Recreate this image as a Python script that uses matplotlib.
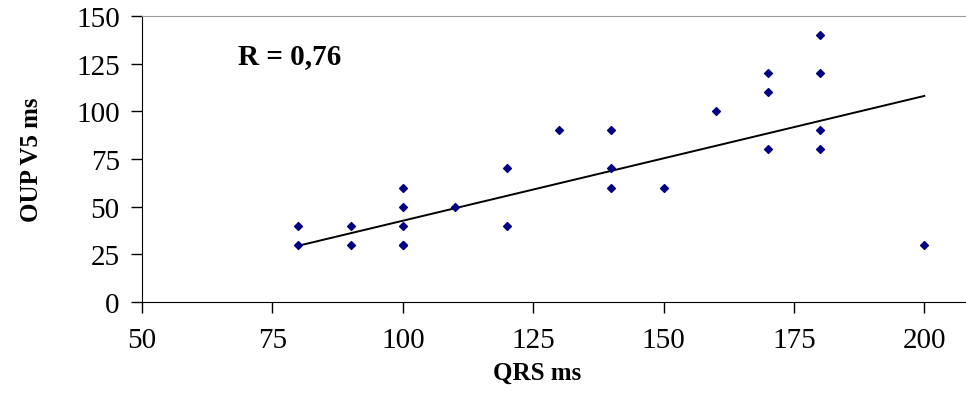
import matplotlib
matplotlib.use("Agg")
import matplotlib.pyplot as plt

# QRS duration (ms) vs OUP V5 (ms)
qrs = [80, 80, 90, 90, 100, 100, 100, 100, 100, 110, 120, 120, 130,
       140, 140, 140, 150, 160, 170, 170, 170, 180, 180, 180, 180, 200]
oup = [40, 30, 40, 30, 60, 50, 40, 30, 30, 50, 70, 40, 90,
       90, 70, 60, 60, 100, 120, 110, 80, 140, 120, 90, 80, 30]
# linear trend line
trend_x = [80, 200]
trend_y = [29.5, 108]
x_ticks = [50, 75, 100, 125, 150, 175, 200]
y_ticks = [0, 25, 50, 75, 100, 125, 150]
r_label = "R = 0,76"

plt.rcParams['font.family'] = ['Liberation Serif', 'DejaVu Serif']

fig = plt.figure(figsize=(9.66, 4.10), dpi=100)
ax = fig.add_axes([0.147, 0.261, 0.853, 0.698])

ax.scatter(qrs, oup, marker='D', s=16, color='#000080', zorder=3)
ax.plot(trend_x, trend_y, color='black', linewidth=1.4)

ax.set_xlim(50, 208)
ax.set_ylim(0, 150)
ax.set_xticks(x_ticks)
ax.set_yticks(y_ticks)
ax.tick_params(axis='both', labelsize=21, length=8, width=1, direction='out')
ax.tick_params(axis='x', pad=10)
ax.tick_params(axis='y', pad=8)

ax.spines['right'].set_visible(False)
ax.spines['top'].set_color('#999999')

ax.set_xlabel('QRS ms', fontsize=18, fontweight='bold')
ax.set_ylabel('OUP V5 ms', fontsize=18, fontweight='bold')
ax.xaxis.set_label_coords(0.479, -0.205)
ax.yaxis.set_label_coords(-0.12, 0.5)

ax.text(0.116, 0.86, r_label, transform=ax.transAxes, fontsize=21,
        fontweight='bold', va='center', ha='left')

fig.savefig('out.png', dpi=100)
